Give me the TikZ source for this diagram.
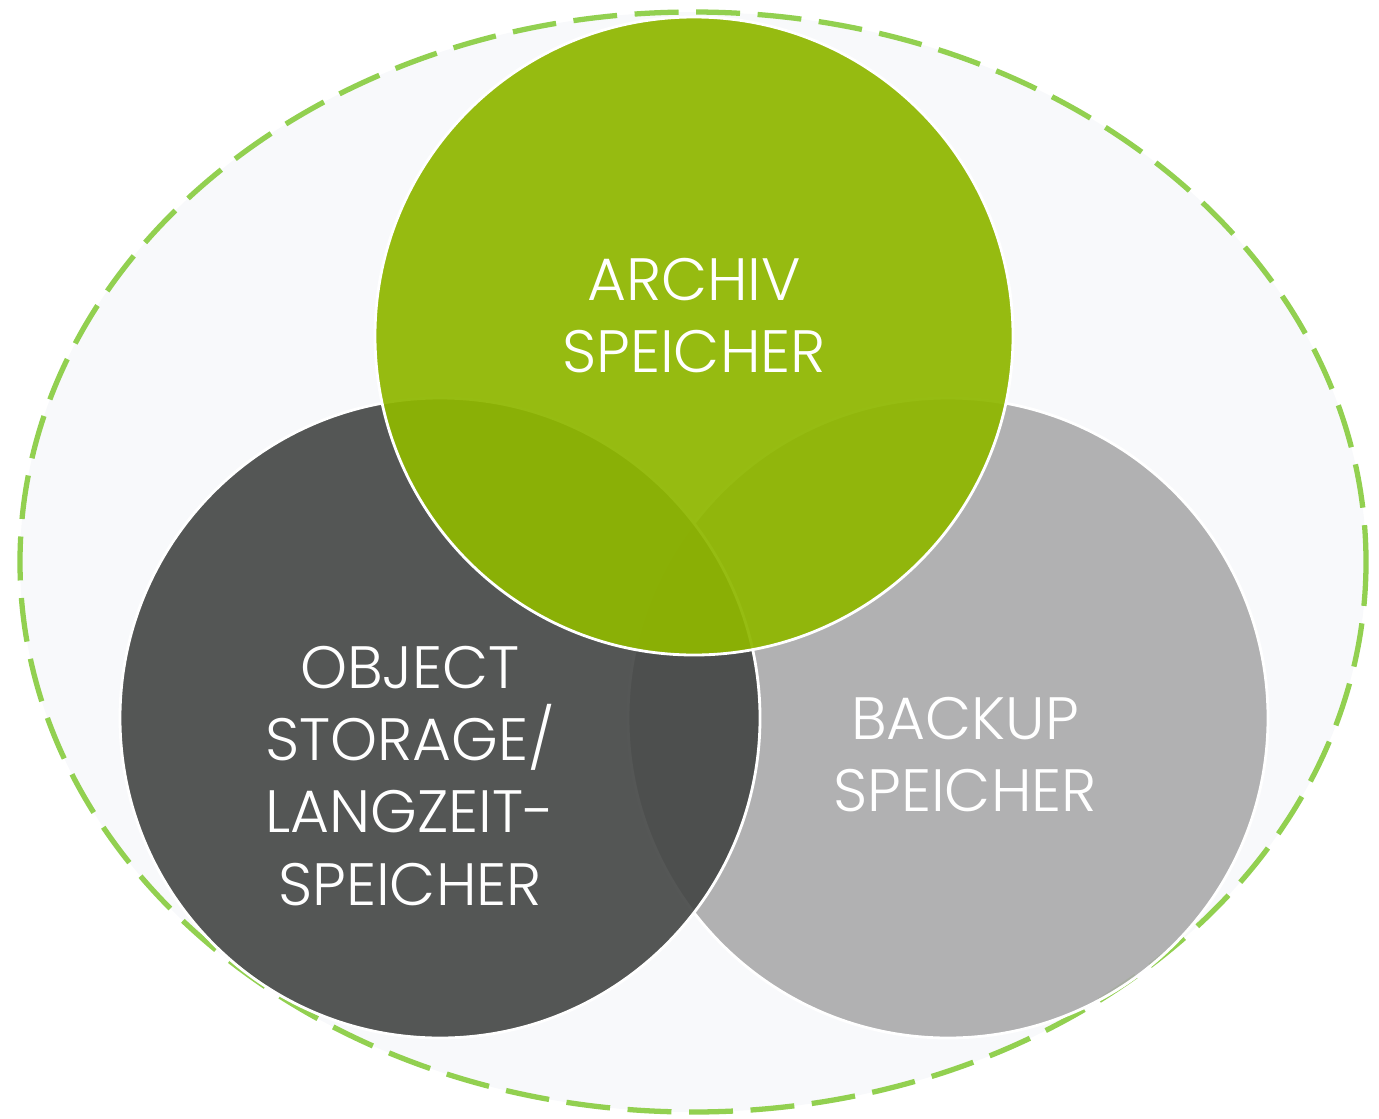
\documentclass[tikz,border=0pt]{standalone}
\usepackage{fontspec}
\setmainfont{Poppins}[UprightFont={* Light}]
\definecolor{framefill}{RGB}{248,249,251}
\definecolor{framegreen}{RGB}{146,208,80}
\definecolor{archivgreen}{RGB}{143,183,0}
\definecolor{objectgray}{RGB}{67,69,68}
\definecolor{backupgray}{RGB}{170,170,171}
\begin{document}
\begin{tikzpicture}[x=0.01cm, y=-0.01cm,
    vennset/.style={draw=white, line width=0.8pt, fill opacity=0.9},
    vennlabel/.style={text=white, align=center, font=\fontsize{17}{20.5}\selectfont}]
    \useasboundingbox (0,0) rectangle (1379,1118);

    % outer frame
    \coordinate (frame) at (693,562);
    \fill[framefill] (frame) ellipse [x radius=673, y radius=550];
    \draw[framegreen, line width=1.5pt, dash pattern=on 12.5pt off 5pt]
        (frame) ellipse [x radius=673, y radius=550];

    % circle centres
    \coordinate (backup) at (948,718);
    \coordinate (object) at (440,718);
    \coordinate (archiv) at (694,336);

    \filldraw[vennset, fill=backupgray] (backup) circle (320);
    \filldraw[vennset, fill=objectgray] (object) circle (320);
    \filldraw[vennset, fill=archivgreen, fill opacity=0.93] (archiv) circle (319);

    % labels
    \node[vennlabel] (archivtext) at (694,316) {ARCHIV\\SPEICHER};
    \node[vennlabel] (objecttext) at (410,776) {OBJECT\\STORAGE/\\LANGZEIT-\\SPEICHER};
    \node[vennlabel] (backuptext) at (965,755) {BACKUP\\SPEICHER};
\end{tikzpicture}
\end{document}
